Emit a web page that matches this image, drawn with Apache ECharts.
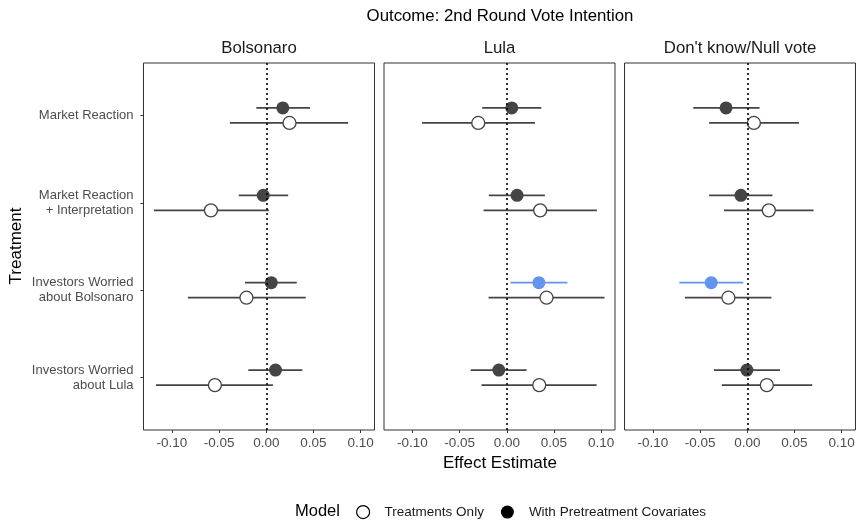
<!DOCTYPE html>
<html>
<head>
<meta charset="utf-8">
<script src="https://cdn.jsdelivr.net/npm/echarts@6/dist/echarts.min.js"></script>
<style>
  html, body { margin: 0; padding: 0; background: #fff; }
  #chart { width: 860px; height: 520px; }
</style>
</head>
<body>
<div id="chart"></div>
<script>
// Treatment rows (top to bottom) and outcome facets (left to right)
const treatments = ['Market Reaction', 'Market Reaction\n+ Interpretation', 'Investors Worried\nabout Bolsonaro', 'Investors Worried\nabout Lula'];
const outcomes = ['Bolsonaro', 'Lula', "Don't know/Null vote"];
const models = ['Treatments Only', 'With Pretreatment Covariates'];
const xTicks = [-0.10, -0.05, 0.00, 0.05, 0.10];

// Treatments-only model: point estimate and 95% interval, one row per outcome
const onlyEst = [
  [0.0246, -0.0586, -0.0210, -0.0544],
  [-0.0302, 0.0354, 0.0421, 0.0344],
  [0.0070, 0.0228, -0.0200, 0.0207]
];
const onlyLo = [
  [-0.0386, -0.1190, -0.0830, -0.1168],
  [-0.0898, -0.0246, -0.0193, -0.0267],
  [-0.0404, -0.0246, -0.0660, -0.0270]
];
const onlyHi = [
  [0.0867, 0.0028, 0.0418, 0.0070],
  [0.0298, 0.0954, 0.1035, 0.0951],
  [0.0547, 0.0702, 0.0256, 0.0688]
];

// Model with pretreatment covariates
const covEst = [
  [0.0175, -0.0032, 0.0053, 0.0098],
  [0.0053, 0.0109, 0.0340, -0.0084],
  [-0.0225, -0.0067, -0.0382, -0.0004]
];
const covLo = [
  [-0.0105, -0.0291, -0.0225, -0.0190],
  [-0.0260, -0.0190, 0.0039, -0.0382],
  [-0.0572, -0.0404, -0.0719, -0.0354]
];
const covHi = [
  [0.0463, 0.0232, 0.0323, 0.0382],
  [0.0365, 0.0404, 0.0642, 0.0210],
  [0.0130, 0.0267, -0.0042, 0.0347]
];

const DARK = '#444444';
const SIG = '#6495ED';
const FONT = '"Liberation Sans", Arial, Helvetica, sans-serif';
const DODGE = 0.086;

const gridLefts = [143.5, 384, 624.5];
const gridWidth = 231;
const gridTop = 63;
const gridHeight = 367;

const grids = [], xAxes = [], yAxes = [], series = [];

outcomes.forEach((name, f) => {
  grids.push({
    left: gridLefts[f], top: gridTop, width: gridWidth, height: gridHeight,
    show: true, borderColor: '#333333', borderWidth: 1, backgroundColor: '#ffffff'
  });
  xAxes.push({
    gridIndex: f, type: 'value', min: -0.130, max: 0.1146, position: 'bottom',
    axisLine: { show: false, onZero: false },
    splitLine: { show: false },
    axisTick: { show: true, length: 3, lineStyle: { color: '#333333', width: 1 }, customValues: xTicks },
    axisLabel: {
      show: true, customValues: xTicks, margin: 6,
      fontFamily: FONT, fontSize: 13.5, color: '#4d4d4d',
      formatter: v => v.toFixed(2)
    }
  });
  yAxes.push({
    gridIndex: f, type: 'value', min: 0.4, max: 4.6, inverse: true, position: 'left',
    axisLine: { show: false, onZero: false },
    splitLine: { show: false },
    axisTick: { show: f === 0, length: 3, lineStyle: { color: '#333333', width: 1 }, customValues: [1, 2, 3, 4] },
    axisLabel: {
      show: f === 0, customValues: [1, 2, 3, 4], margin: 10,
      fontFamily: FONT, fontSize: 13, color: '#4d4d4d', lineHeight: 15, align: 'right',
      formatter: v => treatments[Math.round(v) - 1] || ''
    }
  });

  const sets = [
    { model: models[0], est: onlyEst[f], lo: onlyLo[f], hi: onlyHi[f], shift: DODGE, hollow: true },
    { model: models[1], est: covEst[f], lo: covLo[f], hi: covHi[f], shift: -DODGE, hollow: false }
  ];

  sets.forEach((s, k) => {
    const rows = treatments.map((t, i) => {
      const sig = s.lo[i] > 0 || s.hi[i] < 0;
      return { lo: s.lo[i], hi: s.hi[i], est: s.est[i], y: i + 1 + s.shift, sig };
    });

    // confidence interval segments
    const ci = {
      type: 'custom', name: s.model, xAxisIndex: f, yAxisIndex: f, z: 2, silent: true,
      encode: { x: [0, 1], y: 2 },
      data: rows.map(r => [r.lo, r.hi, r.y]),
      renderItem: (params, api) => {
        const p0 = api.coord([api.value(0), api.value(2)]);
        const p1 = api.coord([api.value(1), api.value(2)]);
        const sig = rows[params.dataIndex].sig && !s.hollow;
        return {
          type: 'line',
          shape: { x1: p0[0], y1: p0[1], x2: p1[0], y2: p1[1] },
          style: { stroke: sig ? SIG : DARK, lineWidth: 1.8 }
        };
      }
    };
    if (k === 0) {
      ci.markLine = {
        silent: true, symbol: ['none', 'none'], label: { show: false },
        lineStyle: { color: '#000000', type: [2, 3], width: 1.6 },
        emphasis: { disabled: true },
        data: [{ xAxis: 0 }]
      };
    }
    series.push(ci);

    // point estimates
    series.push({
      type: 'scatter', name: s.model, xAxisIndex: f, yAxisIndex: f, z: 3, silent: true,
      symbol: 'circle', symbolSize: 13,
      itemStyle: s.hollow
        ? { color: '#ffffff', borderColor: DARK, borderWidth: 1.3, opacity: 1 }
        : { color: DARK, opacity: 1 },
      data: rows.map(r => ({
        value: [r.est, r.y],
        itemStyle: (!s.hollow && r.sig) ? { color: SIG } : undefined
      }))
    });
  });
});

const texts = [
  { text: 'Outcome: 2nd Round Vote Intention', x: 500, y: 16, size: 16.8, color: '#000' },
  { text: outcomes[0], x: gridLefts[0] + gridWidth / 2, y: 48, size: 16.8, color: '#1a1a1a' },
  { text: outcomes[1], x: gridLefts[1] + gridWidth / 2, y: 48, size: 16.8, color: '#1a1a1a' },
  { text: outcomes[2], x: gridLefts[2] + gridWidth / 2, y: 48, size: 16.8, color: '#1a1a1a' },
  { text: 'Effect Estimate', x: 500, y: 463, size: 17, color: '#000' }
];

const graphic = texts.map(t => ({
  type: 'text', x: t.x, y: t.y, silent: true,
  style: { text: t.text, fontFamily: FONT, fontSize: t.size, fill: t.color, align: 'center', verticalAlign: 'middle' }
}));
graphic.push({
  type: 'text', x: 16, y: 246, rotation: Math.PI / 2, silent: true,
  style: { text: 'Treatment', fontFamily: FONT, fontSize: 17, fill: '#000', align: 'center', verticalAlign: 'middle' }
});
graphic.push({
  type: 'text', x: 295, y: 511, silent: true,
  style: { text: 'Model', fontFamily: FONT, fontSize: 16.5, fill: '#000', align: 'left', verticalAlign: 'middle' }
});

const chart = echarts.init(document.getElementById('chart'), null, { renderer: 'canvas' });
chart.setOption({
  animation: false,
  backgroundColor: '#ffffff',
  grid: grids,
  xAxis: xAxes,
  yAxis: yAxes,
  series: series,
  graphic: graphic,
  legend: {
    left: 351, top: 500, orient: 'horizontal',
    itemWidth: 13, itemHeight: 13, itemGap: 17,
    selectedMode: false,
    icon: 'circle',
    textStyle: { fontFamily: FONT, fontSize: 13.5, color: '#1a1a1a', padding: [0, 0, 0, 10] },
    data: [
      { name: models[0], itemStyle: { color: '#ffffff', borderColor: '#000000', borderWidth: 1.2 } },
      { name: models[1], itemStyle: { color: '#000000', borderWidth: 0 } }
    ]
  }
});
</script>
</body>
</html>
